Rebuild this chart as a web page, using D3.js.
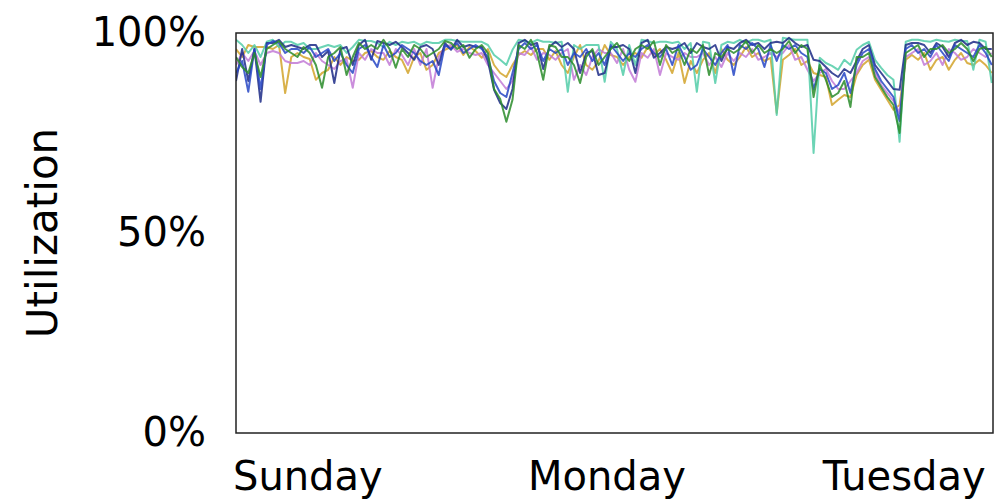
<!DOCTYPE html>
<html><head><meta charset="utf-8">
<script src="https://cdn.jsdelivr.net/npm/d3@7"></script>
<style>
html,body{margin:0;padding:0;background:#fff;}
svg{display:block;}
text{font-family:"DejaVu Sans",sans-serif;fill:#000;}
</style></head>
<body><svg id="chart" width="999" height="500"></svg>
<script>
// ---- data ----
const sampleStepHours = 0.5;
const xDomainHours = [0, 61.6];
const dayLabels = ["Sunday", "Monday", "Tuesday"];
const dayStartHours = [0, 24, 48];
const yTickValues = [0, 50, 100];
const yTickLabels = ["0%", "50%", "100%"];
const yTitle = "Utilization";

const seriesBlue = [
90,93,85.3,96,86,97,98,97.5,95,96,
96,95,96.5,94,95,96,93,95,92,90,
96,97,94,91.5,97,94,95,97,96,95,
93,92,93,89.5,97,96,97.5,95,96,97,
96,94,88,85,84,90,96,97.5,96,97,
93,96,95,96,92,95,94,96,93,95,
92,97,95,93,95,94,96,97,95,94,
96,92,97,94,90.8,92,96,94,92,95,
97,89.5,97,96,97.5,96,91.5,97,93,97,
96,97,95,94,86,91,90,86,87,90,
85,92,95,96,91,88,86,84,78,96,
97,95,96,94,97,95,93,97,96,95,
94,97,95,92];
const seriesGreen = [
94,91.5,90,95,89,96,97,98,96,95,
94,96.5,95,92,86.3,94,95,96.5,89.5,94,
97.5,96,97,96,98.3,96,91.3,96,94,97,
96,94,95,96,98,97.5,96,97,93.8,96,
97,95,86,83.5,77.8,83.3,97,96,98.3,95,
88.3,97,96.5,94,94,92,87.5,94,96,92,
94,96,97.5,95,93,96,97,96,98,92,
97,95,96,92,96,95,97,89.5,95,94,
96,95,96,98,95,97,95,96,95,96,
98,95,97,96,84,92,88.3,84,85,88,
81.5,94,94,95,89,86.5,84,82,75,95,
96,97,94,96,96,97,95,96,97.5,96,
93,96,96.5,94];
const seriesTeal = [
98.3,97,95,97,94,97.8,98.3,96.5,97.8,97.8,
97,97.5,96,96,96.5,97,96.5,97,95,96.5,
98.3,98,98,97.5,96.5,97.8,97,97.8,97.5,97.8,
97,97.8,97.5,97.5,98.3,98.3,98,97.8,97.8,97.8,
97.8,97,94.5,93.3,92,95.8,98.3,98,97.5,98.3,
97.8,97.8,97.5,97.8,85.3,97,96,97,97,97,
87.8,97.8,96,89.5,97,92,98.3,98,97.5,97.8,
97.8,97.5,97.8,96,97.5,85.3,97.8,97.5,87.5,97,
97.8,97.5,98.3,97.5,98.3,98.3,97.8,98.3,79.5,98.8,
98.5,98.3,98.3,98.3,70,93.8,92.5,91.8,90.8,93.3,
92,95.8,97,97.8,93.3,91.3,89.5,88.3,72.8,97.8,
98.3,98.3,98,97.8,98.3,98,97.8,98.3,98,98,
90.8,98.3,97.8,87.5];
const seriesViolet = [
92,95,93,95.5,92,95,95.5,95,93,92.5,
92.5,93,92,95,93,92,91,93,93.5,86.3,
95,93.3,96,95,95,92,96,94.5,92,96,
92,96,86.3,94,96.5,97,95.3,96,95,94.5,
95,92,90,88,86,88,95,94.5,96.5,93.3,
95,94.5,93.3,95,96,88.3,92,89.5,94,96,
95,95,92.5,96,90.8,87.8,95,93.8,96,89.5,
95,94,93.3,95,94,94,95,92,94,91.5,
95,93,95,94,96,93.3,94,95,94,95,
97,93.3,94,90.8,88,90,91,88,86,86,
88,90,93,94,90,87,85,83,80,94,
95,96,92,93,95,92,96,95,93.3,94,
96,95,94,95];
const seriesGold = [
96,94,97,96.5,96.5,96.5,96,97,85,94,
95,94,93.5,88.3,90,90.8,94,92,94,93,
93.3,95,95.5,94,93.3,95.5,94,93.3,90,94,
95,90.8,92,95,95.8,96.5,97,94.5,96.5,95.5,
93.8,96,92,90,89,92,94.5,95.5,94.5,96,
96,93.3,95.5,92,90,94,97,92,90.8,93,
97,94.5,94,92,94,95,93.8,96.5,94.5,96,
93.3,90,95,87.5,93,90,93.3,95,90,96,
93.3,92,94,96.5,94,95,93,93.8,80,93.3,
94.5,96,92,93,90,89.5,89,82,83.3,84.5,
84,89.5,92,93.3,88.3,85.8,83.3,80.8,82,93.3,
94.5,93.3,95,90.8,93.3,94,90.8,93.3,95,92.5,
92,93.3,92,90];
const seriesNavy = [
88,96,88,96,82.8,97.5,97.5,98.3,96.5,97,
96.5,96,97,97,94,95.5,87.5,96,96.5,92,
97,98.3,93.3,98,97.5,97,97.8,96.5,95,93.3,
96.5,97,96,92,97.5,95.8,98.3,96.5,97,96.5,
96.5,93,85.8,82.5,81,86,97.5,98.3,97,97.5,
91,96.5,97.8,96.5,97.5,96,90,95,95.5,89.5,
90,96.5,96.5,97,96,90,97.5,98.3,93.8,95,
96.5,96,96.5,97.5,95,97.5,96.5,96,97,93,
96.5,96,97.5,98.3,97,97.5,96,97.5,97.8,97.5,
98.8,97.5,96.5,97,93.3,93,91.5,90,89,91,
90,93,96,97,92,90,88,86,85.8,97,
97.5,97.5,97,95,97.5,96.5,94,97.5,98.3,97,
97.8,97.5,96,96];

const seriesList = [
  {name:"gold", values: seriesGold, color:"#d2a32a"},
  {name:"violet", values: seriesViolet, color:"#c27ad6"},
  {name:"teal", values: seriesTeal, color:"#52cca8"},
  {name:"navy", values: seriesNavy, color:"#1c2a86"},
  {name:"blue", values: seriesBlue, color:"#2747c4"},
  {name:"green", values: seriesGreen, color:"#2a8c2a"}
];

// ---- layout ----
const svg = d3.select("#chart");
const plot = {left: 236, right: 993, top: 33, bottom: 433};
const x = d3.scaleLinear().domain(xDomainHours).range([plot.left, plot.right]);
const y = d3.scaleLinear().domain([0, 100]).range([plot.bottom, plot.top]);

svg.append("defs").append("clipPath").attr("id","clip")
  .append("rect").attr("x",plot.left).attr("y",plot.top)
  .attr("width",plot.right-plot.left).attr("height",plot.bottom-plot.top);

const line = d3.line()
  .x((d,i) => x(i * sampleStepHours))
  .y(d => y(d));

const g = svg.append("g").attr("clip-path","url(#clip)");
seriesList.forEach(s => {
  g.append("path").datum(s.values)
    .attr("d", line)
    .attr("fill","none")
    .attr("stroke", s.color)
    .attr("stroke-width", 2)
    .attr("stroke-linejoin","round")
    .attr("opacity", 0.85);
});

// frame
svg.append("rect")
  .attr("x", plot.left).attr("y", plot.top)
  .attr("width", plot.right-plot.left).attr("height", plot.bottom-plot.top)
  .attr("fill","none").attr("stroke","#222").attr("stroke-width",1.5);

// y tick labels
svg.append("g").selectAll("text").data(yTickValues).join("text")
  .attr("x", 206)
  .attr("y", d => y(d) + 13)
  .attr("text-anchor","end")
  .attr("font-size", 40)
  .text((d,i) => yTickLabels[i]);

// x tick labels
svg.append("g").selectAll("text").data(dayStartHours).join("text")
  .attr("x", d => x(d) - 3)
  .attr("y", 490)
  .attr("text-anchor","start")
  .attr("font-size", 40)
  .text((d,i) => dayLabels[i]);

// y title
svg.append("text")
  .attr("transform","translate(57,233) rotate(-90)")
  .attr("text-anchor","middle")
  .attr("font-size", 42)
  .text(yTitle);
</script>
</body></html>
